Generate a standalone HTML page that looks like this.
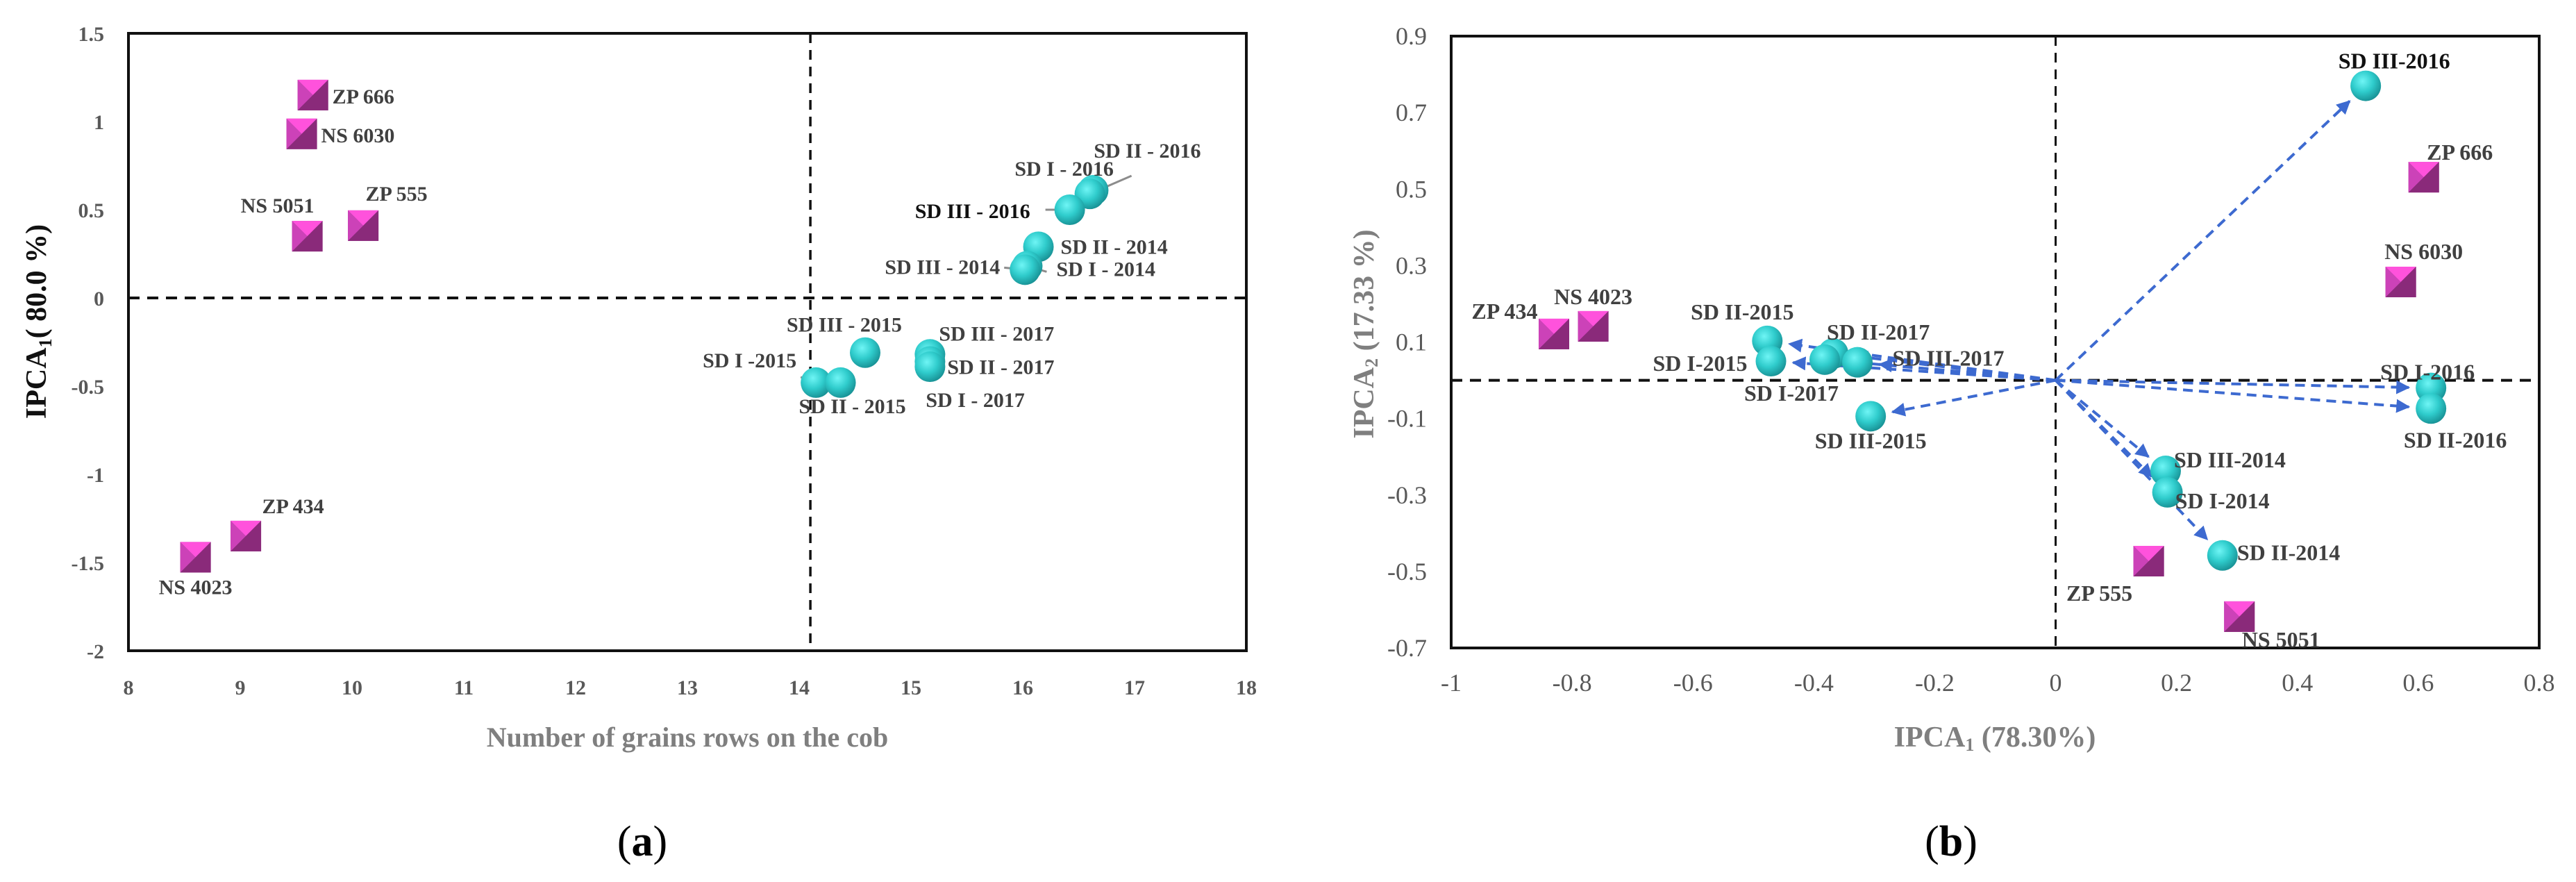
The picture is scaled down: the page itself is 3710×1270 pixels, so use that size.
<!DOCTYPE html>
<html><head><meta charset="utf-8"><style>
html,body{margin:0;padding:0;background:#fff;}
svg{display:block;font-family:"Liberation Serif",serif;}
</style></head><body>
<svg id="fig" width="3710" height="1270" viewBox="0 0 3710 1270" xmlns="http://www.w3.org/2000/svg">
<defs>
<radialGradient id="ball" cx="0.4" cy="0.35" r="0.7">
<stop offset="0" stop-color="#6ff5f5"/><stop offset="0.5" stop-color="#2fcccc"/><stop offset="1" stop-color="#168c90"/>
</radialGradient>
<marker id="ah" viewBox="0 0 10 10" refX="9" refY="5" markerWidth="5" markerHeight="5" orient="auto" markerUnits="strokeWidth">
<path d="M0,0 L10,5 L0,10 z" fill="#3d6ad0"/>
</marker>
</defs>
<g id="chartA"></g>
<g id="chartB"></g>
<text x="925" y="1232" font-size="62" text-anchor="middle" fill="#000">(<tspan font-weight="bold">a</tspan>)</text>
<text x="2810" y="1232" font-size="62" text-anchor="middle" fill="#000">(<tspan font-weight="bold">b</tspan>)</text>
</svg>
<script>
// ---- Chart A data ----
const aXTicks = [8,9,10,11,12,13,14,15,16,17,18];
const aYTicks = [1.5,1,0.5,0,-0.5,-1,-1.5,-2];
const aHybridNames = ["ZP 666","NS 6030","NS 5051","ZP 555","ZP 434","NS 4023"];
const aHybridX = [9.65,9.55,9.6,10.1,9.05,8.6];
const aHybridY = [1.15,0.93,0.35,0.41,-1.35,-1.47];
const aEnvNames = ["SD II - 2016","SD I - 2016","SD III - 2016","SD II - 2014","SD I - 2014","SD III - 2014","SD III - 2015","SD I -2015","SD II - 2015","SD III - 2017","SD II - 2017","SD I - 2017"];
const aEnvX = [16.63,16.6,16.42,16.14,16.04,16.02,14.59,14.15,14.37,15.17,15.17,15.17];
const aEnvY = [0.61,0.59,0.5,0.29,0.18,0.16,-0.31,-0.48,-0.48,-0.32,-0.36,-0.39];
const aVLine = 14.1;
// ---- Chart B data ----
const bXTicks = [-1,-0.8,-0.6,-0.4,-0.2,0,0.2,0.4,0.6,0.8];
const bYTicks = [0.9,0.7,0.5,0.3,0.1,-0.1,-0.3,-0.5,-0.7];
const bHybridNames = ["ZP 666","NS 6030","ZP 555","NS 5051","ZP 434","NS 4023"];
const bHybridX = [0.609,0.571,0.154,0.304,-0.83,-0.765];
const bHybridY = [0.531,0.257,-0.473,-0.618,0.121,0.141];
const bEnvNames = ["SD III-2016","SD I-2016","SD II-2016","SD III-2014","SD I-2014","SD II-2014","SD II-2015","SD I-2015","SD II-2017","SD I-2017","SD III-2017","SD III-2015"];
const bEnvX = [0.513,0.621,0.621,0.182,0.185,0.276,-0.477,-0.471,-0.368,-0.382,-0.328,-0.306];
const bEnvY = [0.77,-0.02,-0.074,-0.237,-0.293,-0.458,0.103,0.05,0.07,0.054,0.047,-0.094];

const NS = "http://www.w3.org/2000/svg";
function el(tag, attrs, parent){const e=document.createElementNS(NS,tag);for(const k in attrs)e.setAttribute(k,attrs[k]);parent.appendChild(e);return e;}

// label layout (pixel offsets, presentation only)
const aHybLab = [[28,12,"start"],[28,12,"start"],[-43,-34,"middle"],[48,-36,"middle"],[68,-33,"middle"],[0,53,"middle"]];
const aEnvLab = [[78,-47,"middle"],[-37,-26,"middle"],[-57,12,"end"],[32,10,"start"],[42,14,"start"],[-36,6,"end"],[-30,-30,"middle"],[-28,-22,"end"],[17,44,"middle"],[13,-20,"start"],[25,18,"start"],[-6,58,"start"]];
const bHybLab = [[52,-25,"middle"],[33,-33,"middle"],[-71,57,"middle"],[60,44,"middle"],[-71,-22,"middle"],[0,-32,"middle"]];
const bEnvLab = [[41,-25,"middle"],[-5,-12,"middle"],[35,56,"middle"],[12,-5,"start"],[11,23,"start"],[21,7,"start"],[-36,-31,"middle"],[-34,14,"end"],[65,-20,"middle"],[-48,59,"middle"],[131,5,"middle"],[0,46,"middle"]];

function square(g,cx,cy,s,name){
  const h=s/2;
  const grp=el("g",{},g);
  
  
  el("rect",{x:cx-h,y:cy-h,width:s,height:s,fill:"#a8379a"},grp);
  el("polygon",{points:`${cx-h},${cy-h} ${cx+h},${cy-h} ${cx},${cy}`,fill:"#ff52dc"},grp);
  el("polygon",{points:`${cx-h},${cy-h} ${cx},${cy} ${cx-h},${cy+h}`,fill:"#cc42b8"},grp);
  el("polygon",{points:`${cx+h},${cy-h} ${cx+h},${cy+h} ${cx-h},${cy+h} ${cx},${cy}`,fill:"#8a2a7a"},grp);
}
function ball(g,cx,cy,r,name){
  const c=el("circle",{cx:cx,cy:cy,r:r,fill:"url(#ball)"},g);
  
  
}
function label(g,x,y,txt,anchor,size,name,weight,fill){
  const t=el("text",{x:x,y:y,"text-anchor":anchor,"font-size":size,"font-weight":weight||"bold",fill:fill||"#404040"},g);
  t.textContent=txt;
  
  
}

// ---------- Chart A ----------
(function(){
  const g=document.getElementById("chartA");
  const L=185,R=1795,T=48,B=937;
  const xs=v=>L+(v-8)/(18-8)*(R-L);
  const ys=v=>B-(v+2)/(1.5+2)*(B-T);
  const frame=el("rect",{x:L,y:T,width:R-L,height:B-T,fill:"none",stroke:"#111",'stroke-width':4},g);
  
  
  const v=el("line",{x1:xs(aVLine),x2:xs(aVLine),y1:T,y2:B,stroke:"#111",'stroke-width':3.5,'stroke-dasharray':"14,10"},g);
  
  
  const h=el("line",{x1:L,x2:R,y1:ys(0),y2:ys(0),stroke:"#111",'stroke-width':4,'stroke-dasharray':"16,11"},g);
  
  
  aXTicks.forEach(t=>label(g,xs(t),1000,String(t),"middle",30,"x-tick-label","bold","#595959"));
  aYTicks.forEach(t=>label(g,150,ys(t)+11,String(t),"end",30,"y-tick-label","bold","#595959"));
  label(g,990,1075,"Number of grains rows on the cob","middle",40,"x-axis-title","bold","#7f7f7f");
  const yt=el("text",{x:0,y:0,"text-anchor":"middle","font-size":42,"font-weight":"bold",fill:"#111",transform:"translate(66,463) rotate(-90)"},g);
  yt.innerHTML='IPCA<tspan font-size="26" dy="8">1</tspan><tspan dy="-8">( 80.0 %)</tspan>';
  
  
  // leader lines
  const leaders=[[1,60,-26],[2,-35,0],[5,-30,-3],[4,28,8],[7,-22,-8]];
  leaders.forEach(l=>{const i=l[0];const x=xs(aEnvX[i]),y=ys(aEnvY[i]);
    const ln=el("line",{x1:x,y1:y,x2:x+l[1],y2:y+l[2],stroke:"#8c8c8c",'stroke-width':3},g);
    
    });
  aHybridNames.forEach((n,i)=>{const x=xs(aHybridX[i]),y=ys(aHybridY[i]);square(g,x,y,44,"hybrid-marker");
    label(g,x+aHybLab[i][0],y+aHybLab[i][1],n,aHybLab[i][2],30,"hybrid-label");});
  aEnvNames.forEach((n,i)=>{const x=xs(aEnvX[i]),y=ys(aEnvY[i]);ball(g,x,y,22,"environment-marker");});
  aEnvNames.forEach((n,i)=>{const x=xs(aEnvX[i]),y=ys(aEnvY[i]);
    label(g,x+aEnvLab[i][0],y+aEnvLab[i][1],n,aEnvLab[i][2],30,"environment-label","bold",i==2?"#111":"#404040");});
})();

// ---------- Chart B ----------
(function(){
  const g=document.getElementById("chartB");
  const L=2090,R=3657,T=52,B=933;
  const xs=v=>L+(v+1)/(1.8)*(R-L);
  const ys=v=>T+(0.9-v)/1.6*(B-T);
  const frame=el("rect",{x:L,y:T,width:R-L,height:B-T,fill:"none",stroke:"#111",'stroke-width':4},g);
  
  
  const v=el("line",{x1:xs(0),x2:xs(0),y1:T,y2:B,stroke:"#111",'stroke-width':3,'stroke-dasharray':"14,10"},g);
  
  
  const h=el("line",{x1:L,x2:R,y1:ys(0),y2:ys(0),stroke:"#111",'stroke-width':4,'stroke-dasharray':"16,11"},g);
  
  
  bXTicks.forEach(t=>label(g,xs(t),995,String(t),"middle",36,"x-tick-label","normal","#595959"));
  bYTicks.forEach(t=>label(g,2055,ys(t)+12,String(t),"end",36,"y-tick-label","normal","#595959"));
  const xt=el("text",{x:2873,y:1075,"text-anchor":"middle","font-size":42,"font-weight":"bold",fill:"#7f7f7f"},g);
  xt.innerHTML='IPCA<tspan font-size="26" dy="6">1</tspan><tspan dy="-6"> (78.30%)</tspan>';
  
  
  const yt=el("text",{x:0,y:0,"text-anchor":"middle","font-size":42,"font-weight":"bold",fill:"#7f7f7f",transform:"translate(1978,481) rotate(-90)"},g);
  yt.innerHTML='IPCA<tspan font-size="26" dy="6">2</tspan><tspan dy="-6"> (17.33 %)</tspan>';
  
  
  // arrows
  const ox=xs(0),oy=ys(0);
  bEnvNames.forEach((n,i)=>{const x=xs(bEnvX[i]),y=ys(bEnvY[i]);const dx=x-ox,dy=y-oy,d=Math.hypot(dx,dy),k=(d-32)/d;
    const a=el("line",{x1:ox,y1:oy,x2:ox+dx*k,y2:oy+dy*k,stroke:"#3d6ad0",'stroke-width':4,'stroke-dasharray':"14,9","marker-end":"url(#ah)"},g);
    
    });
  bHybridNames.forEach((n,i)=>{const x=xs(bHybridX[i]),y=ys(bHybridY[i]);square(g,x,y,44,"hybrid-marker");
    label(g,x+bHybLab[i][0],y+bHybLab[i][1],n,bHybLab[i][2],32,"hybrid-label");});
  bEnvNames.forEach((n,i)=>{const x=xs(bEnvX[i]),y=ys(bEnvY[i]);ball(g,x,y,22,"environment-marker");});
  bEnvNames.forEach((n,i)=>{const x=xs(bEnvX[i]),y=ys(bEnvY[i]);
    label(g,x+bEnvLab[i][0],y+bEnvLab[i][1],n,bEnvLab[i][2],32,"environment-label","bold",i==0?"#111":"#404040");});
})();
</script>
</body></html>
